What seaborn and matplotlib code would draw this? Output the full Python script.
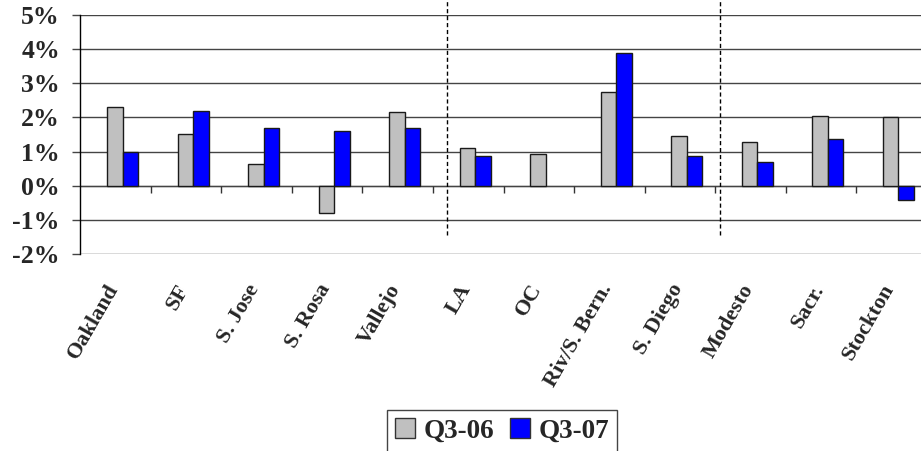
import numpy as np
import pandas as pd
import seaborn as sns
from matplotlib import pyplot as plt
from matplotlib.patches import Patch

# значения, в процентах
cities = ['Oakland', 'SF', 'S. Jose', 'S. Rosa', 'Vallejo', 'LA', 'OC',
          'Riv/S. Bern.', 'S. Diego', 'Modesto', 'Sacr.', 'Stockton']
q3_06 = [2.3, 1.5, 0.64, -0.8, 2.15, 1.1, 0.93, 2.75, 1.46, 1.28, 2.04, 2.0]
q3_07 = [1.0, 2.2, 1.7, 1.6, 1.7, 0.88, np.nan, 3.9, 0.88, 0.68, 1.38, -0.42]
periods = ['Q3-06', 'Q3-07']
y_ticks = [-2, -1, 0, 1, 2, 3, 4, 5]
divider_x = [4.6, 8.47]

GRAY = '#C0C0C0'
BLUE = '#0000FF'
FONT = 'Liberation Serif'


def main():
    df = pd.DataFrame({
        'city': cities * 2,
        'period': [periods[0]] * len(cities) + [periods[1]] * len(cities),
        'value': q3_06 + q3_07,
    })

    sns.set_style('white')
    plt.rcParams['font.family'] = [FONT, 'DejaVu Serif']
    plt.rcParams['font.weight'] = 'bold'

    fig = plt.figure(figsize=(9.21, 4.51), dpi=100)
    ax = fig.add_axes([0.0872, 0.4375, 0.919, 0.5286])

    sns.barplot(data=df, x='city', y='value', hue='period', order=cities,
                hue_order=periods, palette=[GRAY, BLUE], saturation=1,
                width=0.44, gap=0, edgecolor='#1a1a1a', linewidth=1,
                legend=False, ax=ax)

    ax.set_xlim(-0.6, len(cities) - 0.6)
    ax.set_ylim(-2, 5)
    ax.set_xlabel('')
    ax.set_ylabel('')

    # сетка и оси
    ax.set_yticks(y_ticks)
    ax.set_yticklabels([f'{v}%' for v in y_ticks], fontsize=18.5, fontweight='bold')
    ax.grid(axis='y', color='#444444', linewidth=1)
    ax.grid(axis='x', visible=False)
    ax.set_axisbelow(True)
    ax.tick_params(axis='y', length=5.8, width=1, color='#444444', pad=9, left=True)
    for side in ['top', 'right', 'bottom']:
        ax.spines[side].set_visible(False)
    ax.spines['left'].set_color('black')
    ax.spines['left'].set_linewidth(1)
    ax.axhline(0, color='#888888', linewidth=1, zorder=0.5)

    # засечки на нулевой линии между категориями
    bounds = np.arange(len(cities)) + 0.4
    ax.vlines(bounds, -0.23, 0, color='#333333', linewidth=1)

    ax.set_xticks(np.arange(len(cities)) - 0.12)
    ax.set_xticklabels(cities, rotation=60, ha='right', va='center',
                       rotation_mode='anchor', fontsize=16, fontweight='bold')
    ax.tick_params(axis='x', length=0, pad=23)

    # пунктирные разделители регионов
    for x in divider_x:
        ax.axvline(x, ymin=0.078, ymax=1.07, color='black', linewidth=1,
                   linestyle=(0, (3, 2)), clip_on=False)

    handles = [Patch(facecolor=GRAY, edgecolor='#333333', label=periods[0]),
               Patch(facecolor=BLUE, edgecolor='#333333', label=periods[1])]
    leg = fig.legend(handles=handles, loc='upper center', ncol=2,
                     bbox_to_anchor=(0.545, 1 - 410 / 451),
                     prop={'family': FONT, 'weight': 'bold', 'size': 19.5},
                     frameon=True, fancybox=False, framealpha=1,
                     edgecolor='#444444', handlelength=0.75, handleheight=0.75,
                     handletextpad=0.3, columnspacing=0.6, borderpad=0.3,
                     borderaxespad=0)
    leg.get_frame().set_linewidth(1)

    fig.savefig('out.png', dpi=100)


if __name__ == '__main__':
    main()
